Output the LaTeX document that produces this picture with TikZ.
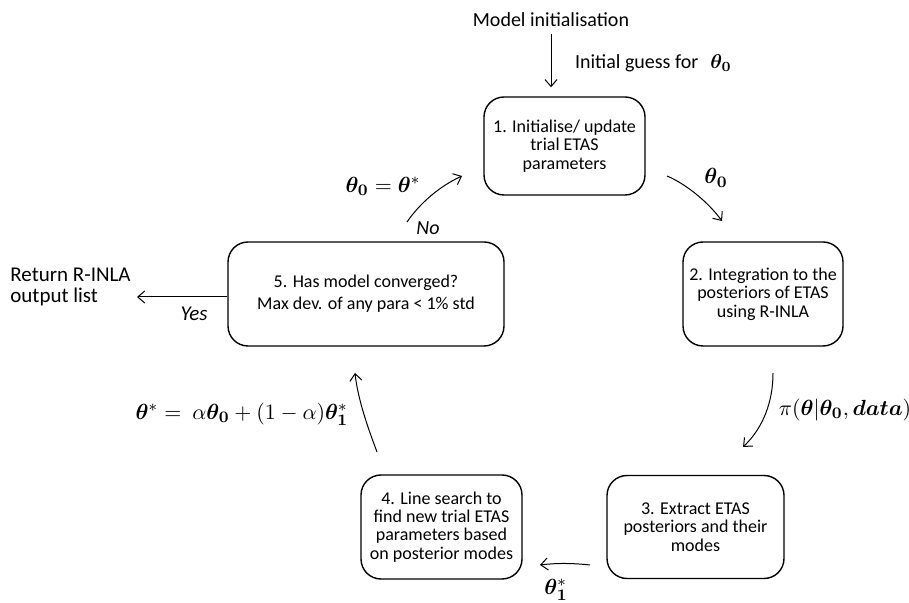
\documentclass[tikz,border=0pt]{standalone}
\usepackage{amsmath}
\usepackage{bm}
\usepackage{fontspec}
\setmainfont{Carlito}
\usetikzlibrary{arrows.meta}

\begin{document}
\begin{tikzpicture}[x=0.5pt, y=-0.5pt,
    stepbox/.style={draw, line width=0.7pt, rounded corners=10pt, align=center,
        inner sep=0pt, font=\fontsize{9}{9.2}\selectfont},
    flow/.style={-{Straight Barb[length=3.5pt,width=6pt]}, line width=0.5pt},
    lbl/.style={font=\fontsize{10}{11}\selectfont},
    mlbl/.style={font=\fontsize{11}{13}\selectfont}]
    \useasboundingbox (0,0) rectangle (909,603);

    \node[stepbox, minimum width=80.5pt, minimum height=49pt] (b1) at (564.5,146) {1. Initialise/ update\\trial ETAS\\parameters};
    \node[stepbox, minimum width=80pt, minimum height=52pt] (b2) at (763,294) {2. Integration to the\\posteriors of ETAS\\using R-INLA};
    \node[stepbox, minimum width=88.5pt, minimum height=51.5pt] (b3) at (695.5,527) {3. Extract ETAS\\posteriors and their\\modes};
    \node[stepbox, minimum width=80.5pt, minimum height=52pt] (b4) at (441.5,527) {4. Line search to\\find new trial ETAS\\parameters based\\on posterior modes};
    \node[stepbox, minimum width=138pt, minimum height=52pt] (b5) at (366,294) {5. Has model converged?\\[2pt]Max dev. of any para < 1\% std};

    \node[lbl] (title) at (551,20) {Model initialisation};
    \node[lbl, anchor=west] (guess) at (568,63) {Initial guess for\hspace{6pt}$\bm{\theta_0}$};
    \node[lbl, anchor=west, align=left, font=\fontsize{10.5}{10.5}\selectfont, inner sep=0pt] (ret) at (10,287) {Return R-INLA\\output list};

    % arrow ends
    \coordinate (a12s) at (667,176);
    \coordinate (a12e) at (722,221);
    \coordinate (a23s) at (773,373);
    \coordinate (a23e) at (743,447);
    \coordinate (a34s) at (590,565);
    \coordinate (a34e) at (540,565);
    \coordinate (a45s) at (377,452);
    \coordinate (a45e) at (355,373);
    \coordinate (a51s) at (407,222);
    \coordinate (a51e) at (462,176);
    \coordinate (aret) at (137,297);

    \draw[flow, shorten >=4.5pt] (title.south) -- (title.south |- b1.north);
    \draw[flow] (a12s) .. controls (686,184) and (708,202) .. (a12e);
    \draw[flow] (a23s) .. controls (773,402) and (763,428) .. (a23e);
    \draw[flow] (a34s) .. controls (572,563) and (556,563) .. (a34e);
    \draw[flow] (a45s) .. controls (368,428) and (358,400) .. (a45e);
    \draw[flow] (a51s) .. controls (420,203) and (440,186) .. (a51e);
    \draw[flow] (b5.west |- aret) -- (aret);

    \node[mlbl] (l12) at (716,178) {$\bm{\theta_0}$};
    \node[mlbl] (l23) at (845,410) {$\pi(\bm{\theta}|\bm{\theta_0},\bm{data})$};
    \node[mlbl] (l34) at (556,590) {$\bm{\theta}^{*}_{\bm{1}}$};
    \node[mlbl] (l45) at (242,414) {$\bm{\theta}^{*} =\ \alpha\bm{\theta_0} + (1-\alpha)\bm{\theta}^{*}_{\bm{1}}$};
    \node[mlbl] (l51) at (383,186) {$\bm{\theta_0} = \bm{\theta}^{*}$};
    \node[lbl, font=\fontsize{10}{11}\selectfont\itshape] (no) at (428,228) {No};
    \node[lbl, font=\fontsize{10.5}{11}\selectfont\itshape] (yes) at (194,314) {Yes};
\end{tikzpicture}
\end{document}
